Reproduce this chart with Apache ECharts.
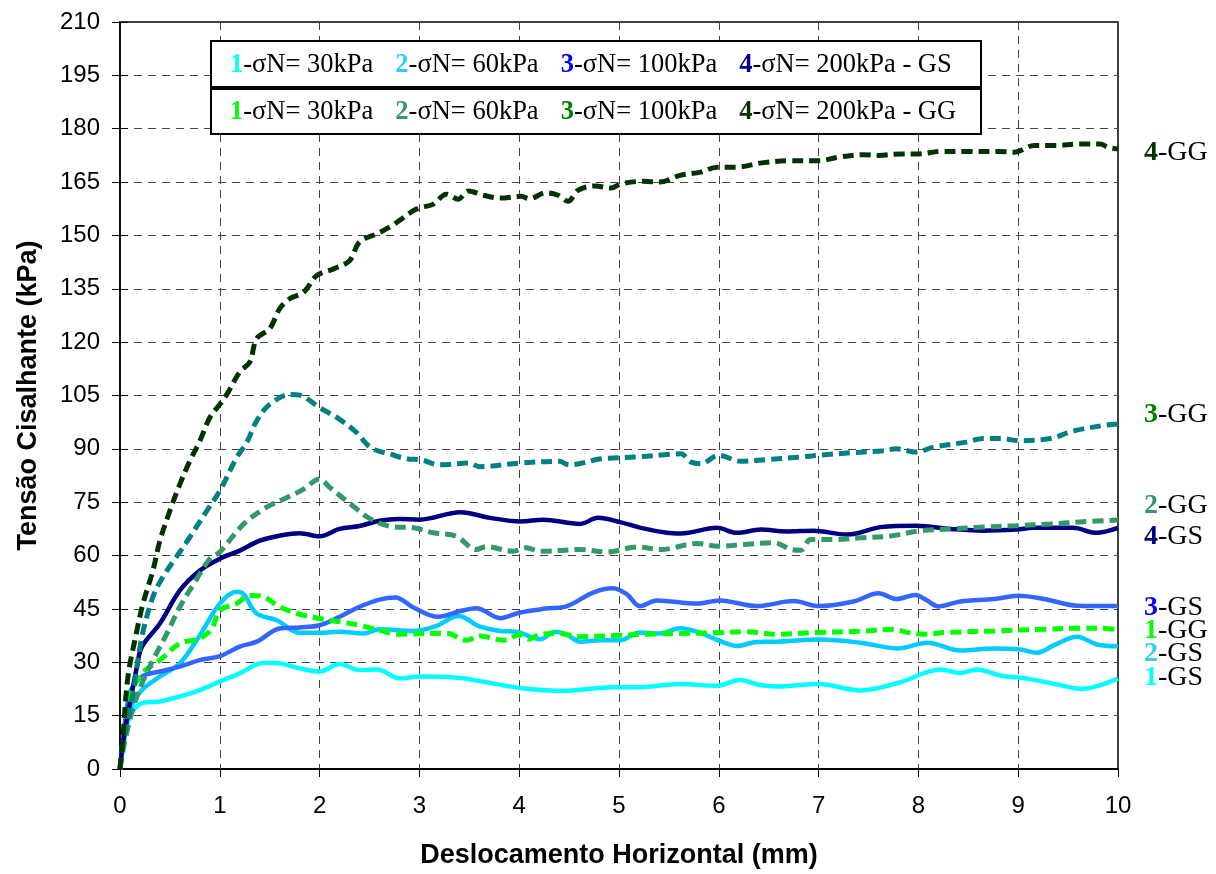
<!DOCTYPE html>
<html>
<head>
<meta charset="utf-8">
<script src="https://cdn.jsdelivr.net/npm/echarts@6/dist/echarts.min.js"></script>
<style>
  html, body { margin: 0; padding: 0; background: #ffffff; }
  #chart { width: 1216px; height: 874px; }
</style>
</head>
<body>
<div id="chart"></div>
<script>
// Direct shear tests: shear stress vs horizontal displacement, GS and GG, four normal stresses.
const normalStress = ['30kPa', '60kPa', '100kPa', '200kPa'];
const yTicks = { min: 0, max: 210, step: 15 };
const xTicks = { min: 0, max: 10, step: 1 };

// GS curves (solid)
const gs1X = [0, 0.03, 0.1, 0.22, 0.4, 0.6, 0.8, 1.0, 1.2, 1.44, 1.6, 1.8, 2.0, 2.2, 2.4, 2.58, 2.8, 3.0, 3.41, 3.67, 4.01, 4.44, 4.94, 5.21, 5.61, 5.98, 6.21, 6.41, 6.58, 7.0, 7.42, 7.82, 8.22, 8.42, 8.59, 8.82, 9.09, 9.42, 9.63, 9.79, 10.0];
const gs1Y = [0, 7, 14.8, 18.5, 19, 20.4, 22.2, 24.6, 26.9, 29.9, 29.7, 28.3, 27.4, 29.5, 27.8, 28.0, 25.5, 26.0, 25.6, 24.4, 22.8, 22.0, 23.0, 23.0, 23.9, 23.4, 25.0, 23.6, 23.2, 23.9, 22.1, 24.4, 28.0, 27.0, 28.0, 26.3, 25.4, 23.6, 22.5, 23.3, 25.4];

const gs2X = [0, 0.03, 0.1, 0.22, 0.4, 0.6, 0.8, 1.0, 1.17, 1.24, 1.37, 1.57, 1.8, 2.0, 2.2, 2.44, 2.6, 2.94, 3.17, 3.39, 3.61, 3.81, 3.97, 4.21, 4.36, 4.48, 4.61, 4.81, 5.01, 5.21, 5.41, 5.61, 5.78, 6.01, 6.18, 6.38, 6.58, 7.0, 7.42, 7.79, 8.09, 8.42, 8.76, 9.02, 9.19, 9.36, 9.59, 9.79, 10.0];
const gs2Y = [0, 6, 16.6, 22.2, 26, 29.7, 37.6, 46.5, 49.8, 49.1, 43.7, 41.8, 38.3, 38.3, 38.6, 38.1, 39.3, 38.8, 40.2, 43.0, 40.0, 38.8, 38.6, 36.5, 38.6, 37.7, 35.8, 36.2, 36.2, 38.4, 38.1, 39.6, 38.6, 36.0, 34.6, 35.7, 35.8, 36.4, 35.5, 33.9, 35.5, 33.3, 33.9, 33.6, 32.7, 34.8, 37.2, 35.0, 34.5];

const gs3X = [0, 0.03, 0.1, 0.22, 0.4, 0.6, 0.8, 1.0, 1.2, 1.37, 1.6, 1.8, 2.0, 2.2, 2.4, 2.6, 2.76, 2.94, 3.19, 3.41, 3.57, 3.81, 4.01, 4.27, 4.48, 4.74, 4.94, 5.08, 5.21, 5.38, 5.78, 6.01, 6.38, 6.75, 7.0, 7.35, 7.6, 7.78, 7.97, 8.08, 8.2, 8.42, 8.76, 9.0, 9.26, 9.59, 10.0];
const gs3Y = [0, 8, 21.3, 26, 27.4, 28.8, 30.6, 31.7, 34.4, 35.8, 39.5, 39.8, 40.4, 42.8, 45.6, 47.6, 48.2, 45.4, 42.8, 44.4, 45.2, 42.4, 44.0, 45.1, 45.8, 49.6, 50.8, 49.1, 45.8, 47.4, 46.5, 47.4, 45.8, 47.2, 45.8, 47.1, 49.4, 47.8, 48.9, 47.5, 45.7, 47.1, 47.8, 48.7, 47.8, 45.9, 45.8];

const gs4X = [0, 0.03, 0.1, 0.17, 0.22, 0.4, 0.6, 0.8, 1.0, 1.2, 1.4, 1.6, 1.8, 2.0, 2.2, 2.4, 2.6, 2.8, 3.0, 3.41, 3.71, 4.01, 4.24, 4.61, 4.79, 5.01, 5.22, 5.48, 5.62, 5.98, 6.18, 6.42, 6.68, 6.95, 7.28, 7.38, 7.62, 7.98, 8.32, 8.65, 8.98, 9.15, 9.55, 9.78, 10.0];
const gs4Y = [0, 7.3, 18.5, 28.8, 34.4, 40.9, 50.2, 55.8, 59.1, 61.4, 64.2, 65.6, 66.3, 65.4, 67.5, 68.3, 69.8, 70.3, 70.1, 72.2, 70.6, 69.6, 70.1, 68.9, 70.6, 69.4, 67.8, 66.4, 66.2, 67.8, 66.4, 67.3, 66.8, 67.0, 65.9, 66.2, 68.0, 68.4, 67.5, 67.0, 67.3, 67.8, 67.8, 66.4, 67.8];

// GG curves (dashed)
const gg1X = [0, 0.03, 0.1, 0.22, 0.4, 0.6, 0.8, 0.92, 1.0, 1.17, 1.3, 1.44, 1.6, 1.8, 2.0, 2.2, 2.4, 2.6, 2.8, 3.27, 3.47, 3.61, 3.84, 4.0, 4.1, 4.21, 4.41, 4.61, 4.94, 5.28, 5.61, 5.95, 6.28, 6.58, 7.0, 7.42, 7.75, 7.89, 8.05, 8.29, 8.76, 9.26, 9.63, 9.83, 10.0];
const gg1Y = [0, 8, 20.4, 26.9, 30.6, 35.3, 36.7, 39.5, 44.6, 46.5, 48.8, 48.4, 45.6, 43.5, 42.3, 41.4, 40.4, 39.0, 37.9, 38.2, 36.2, 37.4, 36.2, 37.7, 36.5, 37.9, 38.1, 37.2, 37.5, 37.9, 38.1, 38.3, 38.6, 37.9, 38.4, 38.7, 39.3, 38.4, 37.9, 38.4, 38.8, 39.3, 39.6, 39.6, 39.1];

const gg2X = [0, 0.05, 0.13, 0.22, 0.33, 0.47, 0.6, 0.74, 0.9, 1.0, 1.24, 1.47, 1.71, 1.84, 2.0, 2.1, 2.31, 2.51, 2.71, 2.94, 3.14, 3.37, 3.57, 3.67, 3.94, 4.07, 4.21, 4.61, 4.88, 5.18, 5.42, 5.78, 6.0, 6.25, 6.55, 6.73, 6.82, 6.92, 7.15, 7.42, 7.72, 8.0, 8.32, 8.65, 8.98, 9.32, 9.65, 10.0];
const gg2Y = [0, 8, 17, 24, 30.6, 38.1, 45.6, 52.1, 59.1, 61, 68.9, 73.6, 76.8, 78.7, 81.5, 79.2, 74.5, 70.3, 68.2, 67.8, 66.4, 65.4, 61.7, 62.5, 61.2, 62.2, 61.2, 61.7, 61.0, 62.4, 61.7, 63.4, 62.6, 63.1, 63.6, 61.7, 61.5, 64.5, 64.5, 65.0, 65.5, 66.9, 67.5, 68.0, 68.4, 68.9, 69.5, 70.0];

const gg3X = [0, 0.03, 0.13, 0.22, 0.33, 0.43, 0.54, 0.7, 0.87, 1.0, 1.17, 1.27, 1.37, 1.5, 1.71, 1.8, 2.0, 2.2, 2.37, 2.51, 2.71, 2.9, 3.0, 3.2, 3.5, 3.6, 4.0, 4.4, 4.5, 4.82, 5.0, 5.22, 5.48, 5.62, 5.72, 5.82, 6.0, 6.22, 6.48, 6.82, 7.0, 7.32, 7.65, 7.78, 7.98, 8.15, 8.48, 8.65, 8.82, 9.02, 9.32, 9.55, 9.88, 10.0];
const gg3Y = [0, 7, 21.3, 37.2, 48.4, 54.0, 58.6, 65.2, 72.6, 78.2, 87.6, 91.8, 97.9, 102.5, 105.3, 105.1, 101.6, 98.3, 94.6, 90.4, 88.5, 87.1, 87, 85.5, 86, 85, 86, 86.5, 85.5, 87.2, 87.5, 87.8, 88.4, 88.6, 86.3, 85.8, 88.2, 86.5, 87.0, 87.7, 88.2, 88.9, 89.5, 90.0, 89.1, 90.5, 91.9, 92.9, 92.9, 92.3, 92.9, 95.0, 96.7, 97];

const gg4X = [0, 0.03, 0.08, 0.17, 0.23, 0.33, 0.4, 0.5, 0.6, 0.7, 0.8, 0.9, 1.0, 1.07, 1.2, 1.3, 1.37, 1.5, 1.6, 1.7, 1.84, 1.97, 2.14, 2.3, 2.4, 2.6, 2.77, 2.97, 3.14, 3.27, 3.39, 3.49, 3.64, 3.81, 4.02, 4.1, 4.27, 4.39, 4.49, 4.59, 4.76, 4.92, 5.02, 5.24, 5.41, 5.61, 5.82, 5.98, 6.18, 6.43, 6.71, 7.0, 7.2, 7.45, 7.6, 7.82, 8.0, 8.22, 8.51, 8.8, 8.96, 9.16, 9.37, 9.61, 9.82, 9.9, 10.0];
const gg4Y = [0, 9.2, 26, 39, 46.5, 55.8, 64.2, 72.6, 80.1, 86.6, 92.2, 98.8, 102.5, 105.3, 111.6, 114.4, 121.0, 123.8, 129.4, 132.2, 134.0, 138.7, 140.6, 142.9, 148.1, 150.8, 153.6, 157.4, 158.8, 161.6, 160.2, 162.5, 161.3, 160.5, 161, 160.3, 162, 161.3, 159.6, 162.7, 163.9, 163.3, 164.5, 165.2, 165, 166.9, 167.8, 169.2, 169.2, 170.4, 171, 171, 172, 172.7, 172.5, 172.9, 172.9, 173.6, 173.6, 173.6, 173.4, 175.3, 175.3, 175.7, 175.7, 174.8, 174.3];

const pairs = (xs, ys) => xs.map((x, i) => [x, ys[i]]);

const SANS = '"Liberation Sans", Arial, sans-serif';
const SERIF = '"Liberation Serif", "Times New Roman", serif';

// colours of lines and of the numerals in the labels
const gsLine = ['#00FFFF', '#00CCFF', '#3366FF', '#000080'];
const gsNum  = ['#00FFFF', '#33CCFF', '#0000FF', '#000080'];
const ggLine = ['#00FF00', '#339966', '#008080', '#003300'];
const ggNum  = ['#00FF00', '#339966', '#008000', '#003300'];

const gsData = [pairs(gs1X, gs1Y), pairs(gs2X, gs2Y), pairs(gs3X, gs3Y), pairs(gs4X, gs4Y)];
const ggData = [pairs(gg1X, gg1Y), pairs(gg2X, gg2Y), pairs(gg3X, gg3Y), pairs(gg4X, gg4Y)];

// vertical nudges keeping the end labels apart
const gsLabelDy = [-1, 7, 2, 9];
const ggLabelDy = [1, -14, -9, 4];

function endLabel(num, suffix, color, dy) {
  return {
    show: true,
    formatter: '{n|' + num + '}{t|-' + suffix + '}',
    offset: [20, dy],
    distance: 6,
    rich: {
      n: { fontFamily: SERIF, fontWeight: 'bold', fontSize: 28, color: color },
      t: { fontFamily: SERIF, fontSize: 28, color: '#000' }
    }
  };
}

const series = [];
gsData.forEach((d, i) => {
  series.push({
    name: (i + 1) + '-GS', type: 'line', data: d, smooth: 0.35, showSymbol: false,
    lineStyle: { color: gsLine[i], width: 4.5 },
    itemStyle: { color: gsLine[i] },
    endLabel: endLabel(i + 1, 'GS', gsNum[i], gsLabelDy[i]),
    z: 3
  });
});
ggData.forEach((d, i) => {
  series.push({
    name: (i + 1) + '-GG', type: 'line', data: d, smooth: 0.35, showSymbol: false,
    lineStyle: { color: ggLine[i], width: 5, type: [11, 6], cap: 'butt' },
    itemStyle: { color: ggLine[i] },
    endLabel: endLabel(i + 1, 'GG', ggNum[i], ggLabelDy[i]),
    z: 4
  });
});

// legend rows drawn as boxed rich text (graphic text uses fill for colour)
function legendRow(tag) {
  const parts = normalStress.map((s, i) =>
    '{n' + i + '|' + (i + 1) + '}{t|-σN= ' + s + (i === 3 ? ' - ' + tag : '') + '}');
  return parts.join('{g|}');
}
function legendRich(numColors) {
  const r = {
    t: { fontFamily: SERIF, fontSize: 26.5, fill: '#000' },
    g: { width: 22 }
  };
  numColors.forEach((c, i) => {
    r['n' + i] = { fontFamily: SERIF, fontSize: 26.5, fontWeight: 'bold', fill: c };
  });
  return r;
}

const chart = echarts.init(document.getElementById('chart'), null, { renderer: 'canvas' });

const axisNameStyle = { fontFamily: SANS, fontWeight: 'bold', fontSize: 27, color: '#000' };

chart.setOption({
  animation: false,
  backgroundColor: '#ffffff',
  grid: { left: 120, right: 98, top: 22, bottom: 102, show: true, borderColor: '#000', borderWidth: 1.5, backgroundColor: 'transparent' },
  xAxis: {
    type: 'value', min: xTicks.min, max: xTicks.max, interval: xTicks.step,
    name: 'Deslocamento Horizontal (mm)', nameLocation: 'middle', nameGap: 73,
    nameTextStyle: axisNameStyle,
    axisLine: { lineStyle: { color: '#000', width: 2 } },
    axisTick: { show: true, length: 8, lineStyle: { color: '#000' } },
    axisLabel: { fontFamily: SANS, fontSize: 24, color: '#000', margin: 25 },
    splitLine: { show: true, lineStyle: { color: '#444', width: 1, type: [8, 6] } }
  },
  yAxis: [{
    type: 'value', min: yTicks.min, max: yTicks.max, interval: yTicks.step,
    name: 'Tensão Cisalhante (kPa)', nameLocation: 'middle', nameGap: 78,
    nameTextStyle: axisNameStyle,
    axisLine: { show: true, lineStyle: { color: '#000', width: 1.5 } },
    axisTick: { show: true, length: 8, lineStyle: { color: '#000' } },
    axisLabel: { fontFamily: SANS, fontSize: 24, color: '#000', margin: 20 },
    splitLine: { show: true, lineStyle: { color: '#444', width: 1, type: [8, 6] } }
  }, {
    // inner half of the crossing ticks on the left axis
    type: 'value', min: yTicks.min, max: yTicks.max, interval: yTicks.step, position: 'left',
    axisLine: { show: false }, axisLabel: { show: false }, splitLine: { show: false },
    axisTick: { show: true, inside: true, length: 8, lineStyle: { color: '#000' } }
  }],
  series: series,
  graphic: [
    { type: 'rect', z: 100, shape: { x: 211, y: 41, width: 770, height: 46 },
      style: { fill: '#fff', stroke: '#000', lineWidth: 2 } },
    { type: 'rect', z: 100, shape: { x: 211, y: 89, width: 770, height: 45 },
      style: { fill: '#fff', stroke: '#000', lineWidth: 2 } },
    { type: 'text', z: 101, x: 230, y: 65,
      style: { text: legendRow('GS'), rich: legendRich(gsNum), verticalAlign: 'middle', align: 'left' } },
    { type: 'text', z: 101, x: 230, y: 112,
      style: { text: legendRow('GG'), rich: legendRich(ggNum), verticalAlign: 'middle', align: 'left' } }
  ]
});
</script>
</body>
</html>
